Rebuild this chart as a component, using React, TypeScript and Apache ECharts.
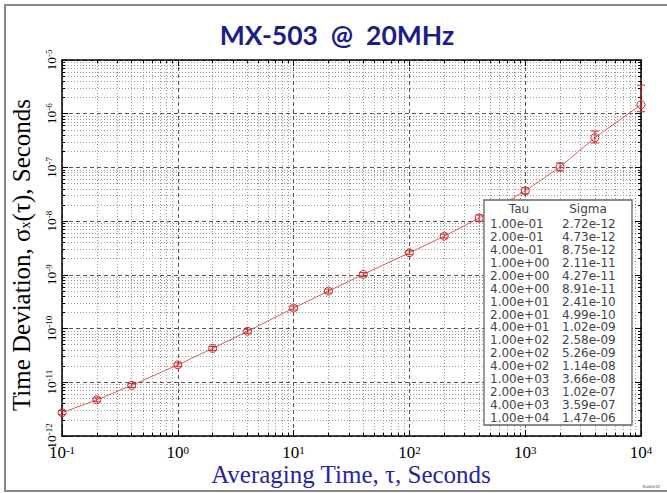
import React, { useEffect, useRef } from "react";
import * as echarts from "echarts";

const TITLE = "MX-503  @  20MHz";
const X_TITLE = "Averaging Time, τ, Seconds";
const Y_TITLE_PARTS = ["Time Deviation, σ", "x", "(τ), Seconds"];
const TABLE_HEAD = ["Tau", "Sigma"];

const tau = [0.1, 0.2, 0.4, 1, 2, 4, 10, 20, 40, 100, 200, 400, 1000, 2000, 4000, 10000];
const sigma = [
  2.72e-12, 4.73e-12, 8.75e-12, 2.11e-11, 4.27e-11, 8.91e-11, 2.41e-10, 4.99e-10,
  1.02e-9, 2.58e-9, 5.26e-9, 1.14e-8, 3.66e-8, 1.02e-7, 3.59e-7, 1.47e-6,
];
// estimated error-bar ends
const sigmaLow = [
  2.5e-12, 4.34e-12, 8.03e-12, 1.94e-11, 3.92e-11, 8.18e-11, 2.21e-10, 4.58e-10,
  9.36e-10, 2.37e-9, 4.83e-9, 1.0e-8, 3.22e-8, 8.6e-8, 2.85e-7, 1.09e-6,
];
const sigmaHigh = [
  2.96e-12, 5.15e-12, 9.53e-12, 2.3e-11, 4.65e-11, 9.71e-11, 2.63e-10, 5.44e-10,
  1.11e-9, 2.81e-9, 5.73e-9, 1.3e-8, 4.16e-8, 1.21e-7, 4.75e-7, 3.4e-6,
];

const X_MIN = 0.1;
const X_MAX = 1e4;
const Y_MIN = 1e-12;
const Y_MAX = 1e-5;

function fmtExp(v: number): string {
  const [m, e] = v.toExponential(2).split("e");
  const n = parseInt(e, 10);
  return m + "e" + (n < 0 ? "-" : "+") + String(Math.abs(n)).padStart(2, "0");
}

const SERIF = "'Liberation Serif', 'DejaVu Serif', serif";
const BLUE = "#2424a8";
const RED = "#cc2a2a";
const TABLE_FONT = "12px 'DejaVu Sans', sans-serif";

export default function App() {
  const ref = useRef<HTMLDivElement>(null);

  useEffect(() => {
    if (!ref.current) return;
    const chart = echarts.init(ref.current, null, { renderer: "svg" });

    const supLabel = (big: number, small: number, lift: number) => ({
      b: { fontSize: big, lineHeight: big - 2, fontFamily: SERIF, color: "#000" },
      s: { fontSize: small, lineHeight: small, fontFamily: SERIF, color: "#000", padding: [0, 0, lift, 0] },
    });
    const expFormatter = (v: number) => {
      const e = Math.round(Math.log10(v));
      return `{b|10}{s|${e}}`;
    };

    const boxAxisCommon = {
      type: "log" as const,
      logBase: 10,
      axisLine: { show: true, lineStyle: { color: "#000", width: 1.5 } },
      axisTick: { show: true, inside: true, length: 6, lineStyle: { color: "#000", width: 1 } },
      minorTick: { show: true, splitNumber: 9, length: 3, lineStyle: { color: "#000", width: 1 } },
    };

    const tableLeft = 484;
    const tableTop = 200;
    const rowTop = 224;
    const rowStep = 12.93;
    const cell = (text: string, x: number, y: number, align: string) => ({
      type: "text",
      z: 101,
      x,
      y,
      style: { text, font: TABLE_FONT, lineHeight: 12, fill: "#444", align, verticalAlign: "middle" },
    });
    const tableElems: any[] = [
      {
        type: "rect",
        z: 100,
        shape: { x: tableLeft, y: tableTop, width: 148, height: 225 },
        style: { fill: "#fff", stroke: "#666", lineWidth: 1.3 },
      },
      cell(TABLE_HEAD[0], 519, 209, "center"),
      cell(TABLE_HEAD[1], 588, 209, "center"),
    ];
    tau.forEach((t, i) => {
      tableElems.push(cell(fmtExp(t), 490, rowTop + i * rowStep, "left"));
      tableElems.push(cell(fmtExp(sigma[i]), 562, rowTop + i * rowStep, "left"));
    });

    const option: any = {
      animation: false,
      backgroundColor: "#fff",
      grid: { left: 62, top: 60, right: 26, bottom: 57, show: false },
      xAxis: [
        {
          ...boxAxisCommon,
          min: X_MIN,
          max: X_MAX,
          position: "bottom",
          splitLine: { show: true, lineStyle: { color: "#555", type: [4, 3], width: 1 } },
          minorSplitLine: { show: true, lineStyle: { color: "#9a9a9a", type: [1, 2], width: 1 } },
          axisLabel: { show: true, margin: 9, formatter: expFormatter, rich: supLabel(17, 11, 6) },
        },
        {
          ...boxAxisCommon,
          min: X_MIN,
          max: X_MAX,
          position: "top",
          splitLine: { show: false },
          axisLabel: { show: false },
        },
      ],
      yAxis: [
        {
          ...boxAxisCommon,
          min: Y_MIN,
          max: Y_MAX,
          position: "left",
          splitLine: { show: true, lineStyle: { color: "#555", type: [4, 3], width: 1 } },
          minorSplitLine: { show: true, lineStyle: { color: "#9a9a9a", type: [1, 2], width: 1 } },
          axisLabel: { show: true, margin: 5, rotate: 90, formatter: expFormatter, rich: supLabel(13.5, 9, 5) },
        },
        {
          ...boxAxisCommon,
          min: Y_MIN,
          max: Y_MAX,
          position: "right",
          splitLine: { show: false },
          axisLabel: { show: false },
        },
      ],
      series: [
        {
          type: "line",
          xAxisIndex: 0,
          yAxisIndex: 0,
          data: tau.map((t, i) => [t, sigma[i]]),
          symbol: "circle",
          symbolSize: 8,
          lineStyle: { color: "#dd5a5a", width: 1 },
          itemStyle: { color: "rgba(0,0,0,0)", borderColor: RED, borderWidth: 1 },
          z: 4,
        },
        {
          type: "custom",
          xAxisIndex: 0,
          yAxisIndex: 0,
          data: tau.map((t, i) => [t, sigmaLow[i], sigmaHigh[i]]),
          encode: { x: 0, y: [1, 2] },
          renderItem: (_params: any, api: any) => {
            const x = api.value(0);
            const lo = api.coord([x, api.value(1)]);
            const hi = api.coord([x, api.value(2)]);
            const w = 4;
            const st = { stroke: RED, lineWidth: 1 };
            return {
              type: "group",
              children: [
                { type: "line", shape: { x1: lo[0], y1: lo[1], x2: hi[0], y2: hi[1] }, style: st },
                { type: "line", shape: { x1: lo[0] - w, y1: lo[1], x2: lo[0] + w, y2: lo[1] }, style: st },
                { type: "line", shape: { x1: hi[0] - w, y1: hi[1], x2: hi[0] + w, y2: hi[1] }, style: st },
              ],
            };
          },
          z: 5,
        },
      ],
      graphic: [
        {
          type: "rect",
          shape: { x: 5, y: 5, width: 700, height: 486 },
          style: { fill: "none", stroke: "#888", lineWidth: 2 },
          z: 0,
          silent: true,
        },
        {
          type: "text",
          x: 337,
          y: 35,
          style: {
            text: TITLE,
            fontSize: 26.5,
            fontWeight: "bold",
            fontFamily: "Lato, 'Open Sans', sans-serif",
            fill: "#1c1c8c",
            align: "center",
            verticalAlign: "middle",
          },
        },
        {
          type: "text",
          x: 351,
          y: 474,
          style: {
            text: X_TITLE,
            fontSize: 25,
            lineHeight: 22,
            fontFamily: SERIF,
            fill: BLUE,
            align: "center",
            verticalAlign: "middle",
          },
        },
        {
          type: "text",
          x: 21,
          y: 255,
          rotation: Math.PI / 2,
          style: {
            text: `{m|${Y_TITLE_PARTS[0]}}{sub|${Y_TITLE_PARTS[1]}}{m|${Y_TITLE_PARTS[2]}}`,
            rich: {
              m: { fontSize: 25, fontFamily: SERIF, color: BLUE },
              sub: { fontSize: 14, fontFamily: SERIF, color: BLUE, padding: [9, 0, 0, 0] },
            },
            align: "center",
            verticalAlign: "middle",
          },
        },
        ...tableElems,
        {
          type: "text",
          x: 660,
          y: 488,
          style: { text: "Stable32", fontSize: 4, fontFamily: "DejaVu Sans", fill: "#555", align: "right", verticalAlign: "bottom" },
        },
      ],
    };

    chart.setOption(option);
    return () => chart.dispose();
  }, []);

  return (
    <div
      ref={ref}
      style={{ position: "fixed", left: 0, top: 0, width: 667, height: 493 }}
    />
  );
}
